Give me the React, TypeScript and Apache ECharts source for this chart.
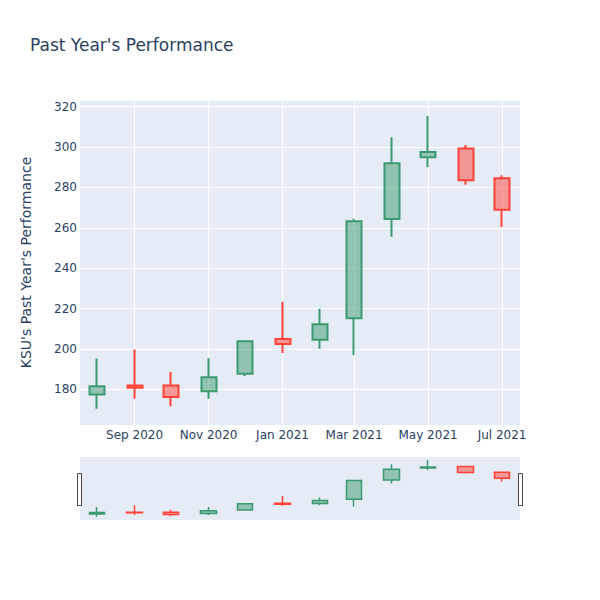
import React, { useEffect, useRef } from "react";
import * as echarts from "echarts";

const months: [number, number][] = [
  [2020, 7], [2020, 8], [2020, 9], [2020, 10], [2020, 11], [2021, 0],
  [2021, 1], [2021, 2], [2021, 3], [2021, 4], [2021, 5], [2021, 6],
];
const openVals = [177.5, 182.0, 182.0, 179.1, 187.8, 205.0, 204.6, 215.2, 264.4, 295.0, 299.3, 284.6];
const closeVals = [181.6, 180.8, 176.3, 186.0, 203.9, 202.5, 212.3, 263.3, 292.0, 297.5, 283.6, 269.0];
const lowVals = [170.4, 175.4, 171.7, 175.4, 186.6, 198.0, 200.2, 197.0, 255.6, 290.0, 281.4, 260.4];
const highVals = [195.3, 199.8, 188.6, 195.5, 204.2, 223.4, 220.0, 264.5, 304.8, 315.4, 301.0, 286.0];
const tickMonths: [number, number][] = [
  [2020, 8], [2020, 10], [2021, 0], [2021, 2], [2021, 4], [2021, 6],
];
const monthNames = ["Jan", "Feb", "Mar", "Apr", "May", "Jun", "Jul", "Aug", "Sep", "Oct", "Nov", "Dec"];

const xMin = Date.UTC(2020, 6, 18);
const xMax = Date.UTC(2021, 6, 15, 19);
const yMin = 162.4;
const yMax = 323.3;

const INC = "#3D9970";
const DEC = "#FF4136";
const INC_FILL = "rgba(61,153,112,0.5)";
const DEC_FILL = "rgba(255,65,54,0.5)";
const TXT = "#2a3f5f";
const FONT = "DejaVu Sans";

export default function App() {
  const ref = useRef<HTMLDivElement>(null);
  useEffect(() => {
    if (!ref.current) return;
    const chart = echarts.init(ref.current, null, { renderer: "svg" });
    const data = months.map((m, i) => [
      Date.UTC(m[0], m[1], 1),
      openVals[i],
      closeVals[i],
      lowVals[i],
      highVals[i],
    ]);
    const ticks = tickMonths.map((m) => Date.UTC(m[0], m[1], 1));
    const candleStyle = {
      color: INC_FILL,
      color0: DEC_FILL,
      borderColor: INC,
      borderColor0: DEC,
      borderWidth: 2,
    };
    chart.setOption({
      animation: false,
      backgroundColor: "#ffffff",
      textStyle: { fontFamily: FONT },
      title: {
        text: "Past Year's Performance",
        left: 25,
        top: 31,
        textStyle: { fontFamily: FONT, fontSize: 17, fontWeight: "normal", color: TXT },
      },
      grid: [
        {
          left: 80, top: 100, width: 440, height: 325,
          show: true, backgroundColor: "#E5ECF6", borderWidth: 0,
        },
        {
          left: 80, top: 457, width: 440, height: 63,
          show: true, backgroundColor: "#E5ECF6", borderWidth: 0,
        },
      ],
      xAxis: [
        {
          type: "value",
          gridIndex: 0,
          min: xMin,
          max: xMax,
          axisLine: { show: false },
          axisTick: { show: false, customValues: ticks },
          splitLine: { show: true, lineStyle: { color: "#ffffff", width: 1 } },
          axisLabel: {
            customValues: ticks,
            margin: 4,
            fontFamily: FONT,
            fontSize: 12,
            color: TXT,
            formatter: (v: number) => {
              const d = new Date(v);
              return monthNames[d.getUTCMonth()] + " " + d.getUTCFullYear();
            },
          },
        },
        {
          type: "value",
          gridIndex: 1,
          min: xMin,
          max: xMax,
          axisLine: { show: false },
          axisTick: { show: false },
          splitLine: { show: false },
          axisLabel: { show: false },
        },
      ],
      yAxis: [
        {
          type: "value",
          gridIndex: 0,
          min: yMin,
          max: yMax,
          splitNumber: 8,
          name: "KSU's Past Year's Performance",
          nameLocation: "middle",
          nameGap: 47,
          nameTextStyle: { fontFamily: FONT, fontSize: 14, color: TXT },
          axisLine: { show: false },
          axisTick: { show: false },
          splitLine: { show: true, lineStyle: { color: "#ffffff", width: 1 } },
          axisLabel: {
            margin: 3,
            fontFamily: FONT,
            fontSize: 12,
            color: TXT,
            formatter: (v: number) => (Math.abs(v % 20) < 1e-6 ? String(Math.round(v)) : ""),
          },
        },
        {
          type: "value",
          gridIndex: 1,
          min: yMin,
          max: yMax,
          axisLine: { show: false },
          axisTick: { show: false },
          splitLine: { show: false },
          axisLabel: { show: false },
        },
      ],
      series: [
        {
          type: "candlestick",
          xAxisIndex: 0,
          yAxisIndex: 0,
          data,
          encode: { x: 0, y: [1, 2, 3, 4] },
          barWidth: 15.5,
          itemStyle: candleStyle,
        },
        {
          type: "candlestick",
          xAxisIndex: 1,
          yAxisIndex: 1,
          data,
          encode: { x: 0, y: [1, 2, 3, 4] },
          barWidth: 16,
          itemStyle: { ...candleStyle, borderWidth: 1.5 },
        },
      ],
      graphic: [
        {
          type: "rect",
          shape: { x: 77.5, y: 473.5, width: 4, height: 32 },
          style: { fill: "#ffffff", stroke: "#444444", lineWidth: 1 },
          z: 100,
        },
        {
          type: "rect",
          shape: { x: 518.5, y: 473.5, width: 4, height: 32 },
          style: { fill: "#ffffff", stroke: "#444444", lineWidth: 1 },
          z: 100,
        },
      ],
    });
    return () => chart.dispose();
  }, []);
  return (
    <div
      ref={ref}
      style={{ position: "fixed", left: 0, top: 0, width: 600, height: 600 }}
    />
  );
}
